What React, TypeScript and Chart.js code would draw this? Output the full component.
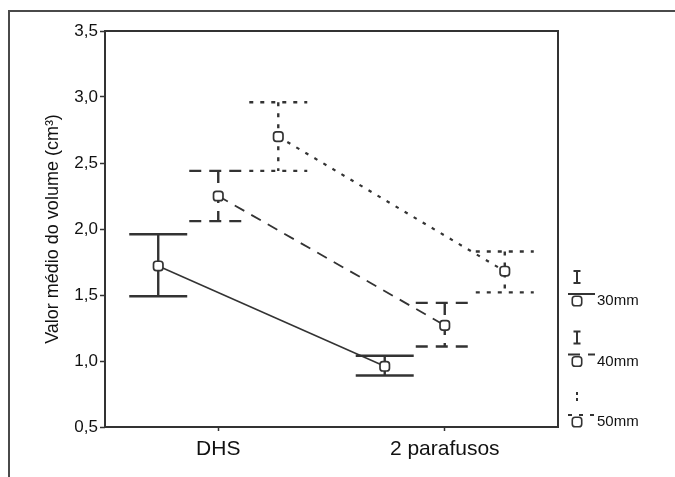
import React, { useEffect, useRef } from "react";
import { Chart, registerables } from "chart.js";
import { drawPoint } from "chart.js/helpers";

Chart.register(...registerables);

// ---- data ----
const categories = ["DHS", "2 parafusos"];
const categoryPositions = [0.5, 1.5];
const seriesLabels = ["30mm", "40mm", "50mm"];
const groupOffsets = [-0.265, 0, 0.265];
const capHalfWidth = 0.128;

const mean30 = [1.72, 0.96];
const low30 = [1.49, 0.89];
const high30 = [1.96, 1.04];

const mean40 = [2.25, 1.27];
const low40 = [2.06, 1.11];
const high40 = [2.44, 1.44];

const mean50 = [2.7, 1.68];
const low50 = [2.44, 1.52];
const high50 = [2.96, 1.83];

const yTickValues = [0.5, 1.0, 1.5, 2.0, 2.5, 3.0, 3.5];
const yTickLabels = ["0,5", "1,0", "1,5", "2,0", "2,5", "3,0", "3,5"];
const yTitle = "Valor médio do volume (cm³)";

const FONT = '"Liberation Sans", Arial, Helvetica, sans-serif';
const INK = "#333333";

type Series = {
  label: string;
  mean: number[];
  low: number[];
  high: number[];
  dash: number[];
  barDash: number[];
  lineWidth: number;
  barWidth: number;
};

const series: Series[] = [
  { label: seriesLabels[0], mean: mean30, low: low30, high: high30, dash: [], barDash: [], lineWidth: 1.5, barWidth: 2.4 },
  { label: seriesLabels[1], mean: mean40, low: low40, high: high40, dash: [11, 8], barDash: [12, 8], lineWidth: 1.8, barWidth: 2.4 },
  { label: seriesLabels[2], mean: mean50, low: low50, high: high50, dash: [3.5, 7], barDash: [4, 7], lineWidth: 2.2, barWidth: 2.4 },
];

const framePlugin = {
  id: "frame",
  beforeDraw(chart: any) {
    const { ctx, width, height } = chart;
    ctx.save();
    ctx.strokeStyle = "#4a4a4a";
    ctx.lineWidth = 2;
    ctx.beginPath();
    ctx.moveTo(9, height);
    ctx.lineTo(9, 11);
    ctx.lineTo(width, 11);
    ctx.stroke();
    ctx.restore();
  },
};

const errorBarPlugin = {
  id: "errorBars",
  beforeDatasetsDraw(chart: any) {
    const { ctx } = chart;
    const xs = chart.scales.x;
    const ys = chart.scales.y;
    series.forEach((s, si) => {
      ctx.save();
      ctx.strokeStyle = INK;
      ctx.lineWidth = s.barWidth;
      ctx.setLineDash(s.barDash);
      categoryPositions.forEach((cp, ci) => {
        const cx = cp + groupOffsets[si];
        const px = xs.getPixelForValue(cx);
        const pl = xs.getPixelForValue(cx - capHalfWidth);
        const pr = xs.getPixelForValue(cx + capHalfWidth);
        const yh = ys.getPixelForValue(s.high[ci]);
        const yl = ys.getPixelForValue(s.low[ci]);
        ctx.beginPath();
        ctx.moveTo(pl, yh);
        ctx.lineTo(pr, yh);
        ctx.stroke();
        ctx.beginPath();
        ctx.moveTo(px, yh);
        ctx.lineTo(px, yl);
        ctx.stroke();
        ctx.beginPath();
        ctx.moveTo(pl, yl);
        ctx.lineTo(pr, yl);
        ctx.stroke();
      });
      ctx.restore();
    });
  },
};

const boxAndLegendPlugin = {
  id: "boxLegend",
  afterDraw(chart: any) {
    const { ctx, chartArea } = chart;
    ctx.save();
    ctx.strokeStyle = INK;
    ctx.lineWidth = 2;
    ctx.setLineDash([]);
    ctx.strokeRect(chartArea.left, chartArea.top, chartArea.right - chartArea.left, chartArea.bottom - chartArea.top);
    ctx.restore();

    // legend
    const xIcon = chartArea.right + 19;
    const n = series.length;
    series.forEach((s, i) => {
      const by = chartArea.bottom - 5 - (n - 1 - i) * 60.5;
      ctx.save();
      ctx.strokeStyle = INK;
      ctx.lineWidth = 2;
      // error glyph
      ctx.setLineDash(i === 2 ? [3, 3] : []);
      ctx.beginPath();
      ctx.moveTo(xIcon, by - 30);
      ctx.lineTo(xIcon, by - 18);
      ctx.stroke();
      if (i < 2) {
        ctx.beginPath();
        ctx.moveTo(xIcon - 3.5, by - 30);
        ctx.lineTo(xIcon + 3.5, by - 30);
        ctx.moveTo(xIcon - 3.5, by - 18);
        ctx.lineTo(xIcon + 3.5, by - 18);
        ctx.stroke();
      }
      // line sample
      ctx.setLineDash(s.barDash);
      ctx.lineWidth = 2;
      ctx.beginPath();
      ctx.moveTo(chartArea.right + 10, by - 7);
      ctx.lineTo(chartArea.right + 37, by - 7);
      ctx.stroke();
      ctx.setLineDash([]);
      ctx.fillStyle = "#ffffff";
      ctx.lineWidth = 1.6;
      drawPoint(ctx, { pointStyle: "rectRounded", rotation: 0, radius: 5.5, borderWidth: 1.6 } as any, xIcon, by);
      ctx.fillStyle = "#111111";
      ctx.font = `15px ${FONT}`;
      ctx.textBaseline = "middle";
      ctx.textAlign = "left";
      ctx.fillText(s.label, chartArea.right + 39, by);
      ctx.restore();
    });
  },
};

export default function App() {
  const canvasRef = useRef<HTMLCanvasElement | null>(null);

  useEffect(() => {
    if (!canvasRef.current) return;
    const datasets = series.map((s, si) => ({
      label: s.label,
      data: categoryPositions.map((cp, ci) => ({ x: cp + groupOffsets[si], y: s.mean[ci] })),
      borderColor: INK,
      borderWidth: s.lineWidth,
      borderDash: s.dash,
      pointStyle: "rectRounded",
      pointRadius: 5.5,
      pointBorderWidth: 1.7,
      pointBorderColor: INK,
      pointBackgroundColor: "#ffffff",
      fill: false,
      tension: 0,
    }));

    const chart = new Chart(canvasRef.current, {
      type: "line",
      data: { datasets: datasets as any },
      options: {
        responsive: false,
        animation: false,
        devicePixelRatio: 1,
        layout: { padding: { top: 31, right: 117, bottom: 0, left: 0 } },
        plugins: {
          legend: { display: false },
          tooltip: { enabled: false },
        },
        scales: {
          x: {
            type: "linear",
            min: 0,
            max: 2,
            afterBuildTicks: (scale: any) => {
              scale.ticks = categoryPositions.map((v) => ({ value: v }));
            },
            afterFit: (scale: any) => {
              scale.height = 50;
            },
            border: { display: false },
            grid: {
              drawOnChartArea: false,
              drawTicks: true,
              tickLength: 4,
              tickColor: INK,
              tickWidth: 1.5,
            },
            ticks: {
              autoSkip: false,
              maxRotation: 0,
              padding: 6,
              color: "#111111",
              font: { family: FONT, size: 21 },
              callback: (value: any) => {
                const idx = categoryPositions.indexOf(Number(value));
                return idx >= 0 ? categories[idx] : "";
              },
            },
          },
          y: {
            type: "linear",
            min: 0.5,
            max: 3.5,
            afterBuildTicks: (scale: any) => {
              scale.ticks = yTickValues.map((v) => ({ value: v }));
            },
            afterFit: (scale: any) => {
              scale.width = 105;
            },
            border: { display: false },
            grid: {
              drawOnChartArea: false,
              drawTicks: true,
              tickLength: 5,
              tickColor: INK,
              tickWidth: 1.5,
            },
            ticks: {
              padding: 2,
              color: "#111111",
              font: { family: FONT, size: 17 },
              callback: (value: any) => {
                const idx = yTickValues.indexOf(Number(value));
                return idx >= 0 ? yTickLabels[idx] : "";
              },
            },
            title: {
              display: true,
              text: yTitle,
              color: "#111111",
              font: { family: FONT, size: 18 },
              padding: { top: 42, bottom: 0 },
            },
          },
        },
      },
      plugins: [framePlugin, errorBarPlugin, boxAndLegendPlugin],
    });
    return () => chart.destroy();
  }, []);

  return (
    <div style={{ position: "fixed", left: 0, top: 0, width: 675, height: 477, background: "#ffffff" }}>
      <canvas ref={canvasRef} width={675} height={477} style={{ display: "block" }} />
    </div>
  );
}
